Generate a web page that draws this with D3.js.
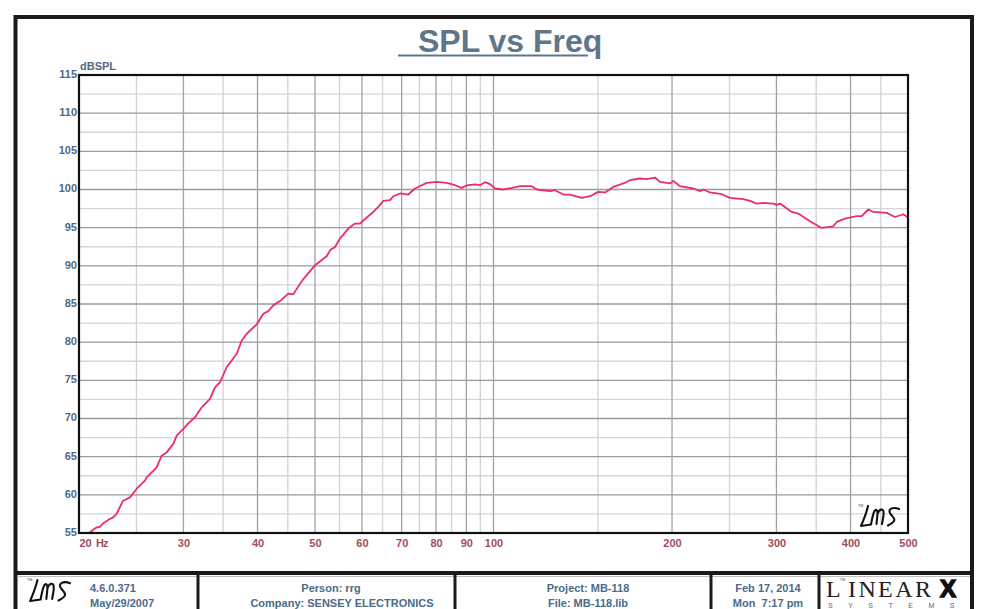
<!DOCTYPE html>
<html>
<head>
<meta charset="utf-8">
<script src="https://cdn.jsdelivr.net/npm/d3@7"></script>
<style>
  html, body { margin: 0; padding: 0; background: #ffffff; }
  svg { display: block; font-family: "Liberation Sans", Arial, sans-serif; }
  text { white-space: pre; }
</style>
</head>
<body>
<svg id="chart" width="984" height="609"></svg>
<script>
// ---------------- DATA ----------------
const freqHz = [20, 20.7, 21.4, 21.7, 21.95, 22.56, 22.82, 23.15, 23.73, 24.38, 25.02, 25.84,
  26.01, 27.04, 27.57, 28.11, 28.84, 29.23, 29.99, 30.57, 31.38, 32.21, 33.26, 33.91, 34.58,
  35.49, 36.9, 37.62, 38.36, 39.87, 40.91, 41.71, 42.53, 43.65, 45.08, 45.96, 47.17, 48.1,
  50.0, 52.33, 53.0, 54.04, 55.1, 56.91, 58.41, 59.55, 61.12, 62.71, 63.94, 65.19, 66.91,
  67.77, 69.56, 71.83, 73.73, 75.67, 77.16, 80.21, 83.39, 86.12, 88.39, 90.12, 93.07, 94.9,
  96.76, 98.66, 100.6, 103.9, 108.0, 110.9, 116.0, 118.3, 124.5, 127.0, 131.1, 134.6, 140.9,
  145.5, 150.2, 154.2, 159.2, 165.6, 169.9, 176.6, 181.3, 187.2, 190.9, 198.5, 201.0, 206.3,
  217.3, 223.0, 225.9, 231.8, 242.6, 250.5, 263.8, 270.8, 277.9, 285.1, 296.4, 300.3, 304.2,
  318.3, 326.6, 341.8, 357.6, 374.1, 379.1, 391.5, 409.7, 417.7, 428.6, 437.0, 460.3, 475.4,
  491.0, 500];
const splDb = [54.9, 54.9, 55.72, 55.81, 56.25, 56.86, 57.03, 57.52, 59.23, 59.66, 60.8, 61.85,
  62.28, 63.6, 65.13, 65.56, 66.67, 67.76, 68.64, 69.37, 70.16, 71.47, 72.57, 74.09, 74.75,
  76.72, 78.48, 80.22, 81.1, 82.32, 83.73, 84.07, 84.82, 85.38, 86.35, 86.26, 87.66, 88.53,
  90.07, 91.25, 92.03, 92.47, 93.57, 94.88, 95.54, 95.54, 96.33, 97.06, 97.72, 98.5, 98.6,
  99.12, 99.48, 99.34, 100.13, 100.56, 100.87, 101.0, 100.87, 100.56, 100.21, 100.53, 100.66, 100.56,
  100.96, 100.7, 100.13, 100.0, 100.26, 100.43, 100.43, 100.0, 99.78, 99.91, 99.34, 99.34, 98.9,
  99.12, 99.69, 99.61, 100.34, 100.79, 101.22, 101.44, 101.35, 101.57, 101.0, 100.79, 101.13, 100.43,
  100.13, 99.78, 100.0, 99.61, 99.38, 98.9, 98.73, 98.5, 98.16, 98.24, 98.16, 97.98, 98.16,
  97.06, 96.85, 95.84, 94.96, 95.18, 95.75, 96.19, 96.5, 96.5, 97.38, 97.06, 96.93, 96.4,
  96.76, 96.33];

const yTickValues = [55, 60, 65, 70, 75, 80, 85, 90, 95, 100, 105, 110, 115];
const yMinorValues = [57.5, 62.5, 67.5, 72.5, 77.5, 82.5, 87.5, 92.5, 97.5, 102.5, 107.5, 112.5];
const xMajorValues = [20, 30, 40, 50, 60, 70, 80, 90, 100, 200, 300, 400, 500];
const xMinorValues = [25, 35, 45, 55, 65, 75, 85, 95, 150, 250, 350, 450];
const xTickLabels = ["20", "30", "40", "50", "60", "70", "80", "90", "100", "200", "300", "400", "500"];

const titleText = "SPL vs Freq";
const yAxisTitle = "dBSPL";
const xUnit = "Hz";
const footerVersion = ["4.6.0.371", "May/29/2007"];
const footerPerson = ["Person: rrg", "Company: SENSEY ELECTRONICS"];
const footerProject = ["Project: MB-118", "File: MB-118.lib"];
const footerDate = ["Feb 17, 2014", "Mon  7:17 pm"];

// ---------------- LAYOUT ----------------
const svg = d3.select("#chart");
const plot = { left: 79, right: 908, top: 75, bottom: 533 };
const x = d3.scaleLog().domain([20, 500]).range([plot.left, plot.right]);
const y = d3.scaleLinear().domain([55, 115]).range([plot.bottom, plot.top]);

const blueGray = "#4c6a89";
const redLabel = "#a24b5a";
const sans = "'Liberation Sans', Arial, sans-serif";
const serif = "'Liberation Serif', 'Times New Roman', serif";

// outer frame
svg.append("rect").attr("x", 0).attr("y", 0).attr("width", 984).attr("height", 609).attr("fill", "#fff");
svg.append("path")
  .attr("d", "M15.5,609 L15.5,17 L972,17 L972,609")
  .attr("fill", "none").attr("stroke", "#1a1a1a").attr("stroke-width", 4);
svg.append("line").attr("x1", 14).attr("x2", 974).attr("y1", 573).attr("y2", 573)
  .attr("stroke", "#1a1a1a").attr("stroke-width", 4);
svg.append("line").attr("x1", 17).attr("x2", 970).attr("y1", 576.5).attr("y2", 576.5)
  .attr("stroke", "#bdbdbd").attr("stroke-width", 1);
[198, 455, 711, 819].forEach(xx => {
  svg.append("line").attr("x1", xx).attr("x2", xx).attr("y1", 575).attr("y2", 609)
    .attr("stroke", "#1a1a1a").attr("stroke-width", 3);
});

// title
svg.append("text").attr("x", 418).attr("y", 52).style("font-family", sans)
  .attr("font-size", 32).attr("font-weight", "bold").attr("fill", "#5f768a")
  .text(titleText);
svg.append("line").attr("x1", 398).attr("x2", 588).attr("y1", 55.5).attr("y2", 55.5)
  .attr("stroke", "#5f768a").attr("stroke-width", 2);

// grid
const g = svg.append("g");
g.selectAll("line.ymin").data(yMinorValues).join("line").attr("class", "ymin")
  .attr("x1", plot.left).attr("x2", plot.right)
  .attr("y1", d => y(d)).attr("y2", d => y(d))
  .attr("stroke", "#d6d6d6").attr("stroke-width", 1.3);
g.selectAll("line.xmin").data(xMinorValues).join("line").attr("class", "xmin")
  .attr("x1", d => x(d)).attr("x2", d => x(d))
  .attr("y1", plot.top).attr("y2", plot.bottom)
  .attr("stroke", "#d2d2d2").attr("stroke-width", 1.3);
g.selectAll("line.ymaj").data(yTickValues).join("line").attr("class", "ymaj")
  .attr("x1", plot.left).attr("x2", plot.right)
  .attr("y1", d => y(d)).attr("y2", d => y(d))
  .attr("stroke", "#9a9a9a").attr("stroke-width", 1.3);
g.selectAll("line.xmaj").data(xMajorValues).join("line").attr("class", "xmaj")
  .attr("x1", d => x(d)).attr("x2", d => x(d))
  .attr("y1", plot.top).attr("y2", plot.bottom)
  .attr("stroke", "#a2a2a2").attr("stroke-width", 1.3);

// curve
svg.append("clipPath").attr("id", "clip").append("rect")
  .attr("x", plot.left).attr("y", plot.top - 1)
  .attr("width", plot.right - plot.left).attr("height", plot.bottom - plot.top + 1);
const pts = freqHz.map((f, i) => [f, splDb[i]]);
svg.append("path").datum(pts)
  .attr("clip-path", "url(#clip)")
  .attr("d", d3.line().x(d => x(d[0])).y(d => y(d[1])))
  .attr("fill", "none").attr("stroke", "#ee2c66").attr("stroke-width", 1.8)
  .attr("stroke-linejoin", "round");

// plot frame
svg.append("rect").attr("x", plot.left).attr("y", plot.top)
  .attr("width", plot.right - plot.left).attr("height", plot.bottom - plot.top)
  .attr("fill", "none").attr("stroke", "#111").attr("stroke-width", 2.2);

// y axis labels
const yAxis = d3.axisLeft(y).tickValues(yTickValues).tickSize(0).tickPadding(2).tickFormat(d3.format("d"));
const yg = svg.append("g").attr("transform", `translate(${plot.left},0)`).call(yAxis);
yg.select(".domain").remove();
yg.selectAll("text").attr("font-size", 11).attr("font-weight", "bold").attr("fill", blueGray)
  .style("font-family", sans).attr("dy", "0.22em");
svg.append("text").attr("x", 80).attr("y", 70).attr("font-size", 11).attr("font-weight", "bold")
  .style("font-family", sans).attr("fill", blueGray).text(yAxisTitle);

// x axis labels
const xAxis = d3.axisBottom(x).tickValues(xMajorValues).tickSize(0).tickPadding(6)
  .tickFormat((d, i) => xTickLabels[i]);
const xg = svg.append("g").attr("transform", `translate(0,${plot.bottom})`).call(xAxis);
xg.select(".domain").remove();
xg.selectAll("text").attr("font-size", 11).attr("font-weight", "bold").attr("fill", redLabel)
  .style("font-family", sans)
  .attr("text-anchor", (d, i) => i === 0 ? "start" : "middle");
svg.append("text").attr("x", 96).attr("y", 547).attr("font-size", 11).attr("font-weight", "bold")
  .style("font-family", sans).attr("fill", redLabel).attr("letter-spacing", -1).text(xUnit);

// LMS logo
function lmsLogo(tx, ty, s) {
  const lg = svg.append("g").attr("transform", `translate(${tx},${ty}) scale(${s})`);
  lg.append("path")
    .attr("d", "M9,1 C7.5,8 5,14 2,21 L12,19.5 M12,19.5 C13,14 14,9 15.5,6 C17,3.5 18.8,5.5 18.5,9 L17.5,19 M18.5,9 C20,4 24,3 24.5,7 C25,11 23.5,15 23,19 M40,4 C34,1.5 28,4 31.5,9 C34.5,13 39.5,15 29,20.5")
    .attr("fill", "none").attr("stroke", "#111").attr("stroke-width", 2.1 / s)
    .attr("stroke-linecap", "round").attr("stroke-linejoin", "round");
  lg.append("text").attr("x", -1).attr("y", 2).attr("font-size", 3.5).attr("fill", "#444")
    .style("font-family", sans).text("TM");
}
lmsLogo(28, 579, 1.05);
lmsLogo(859, 505, 1.0);

// footer text
function footerLine(t, xx, yy, anchor) {
  svg.append("text").attr("x", xx).attr("y", yy)
    .attr("font-size", 11).attr("font-weight", "bold").attr("fill", blueGray)
    .style("font-family", sans).attr("text-anchor", anchor).text(t);
}
footerLine(footerVersion[0], 90, 592, "start");
footerLine(footerVersion[1], 90, 607, "start");
footerLine(footerPerson[0], 331, 592, "middle");
footerLine(footerPerson[1], 342, 607, "middle");
footerLine(footerProject[0], 588, 592, "middle");
footerLine(footerProject[1], 588, 607, "middle");
footerLine(footerDate[0], 768, 592, "middle");
footerLine(footerDate[1], 768, 607, "middle");

// LINEAR X logo
svg.append("text").attr("x", 826).attr("y", 597).style("font-family", serif)
  .attr("font-size", 24).attr("fill", "#222").text("L");
svg.append("text").attr("x", 840).attr("y", 581).style("font-family", sans)
  .attr("font-size", 3.5).attr("fill", "#444").text("TM");
svg.append("text").attr("x", 848).attr("y", 597).style("font-family", serif)
  .attr("font-size", 24).attr("letter-spacing", 2.4).attr("fill", "#222").text("INEAR");
svg.append("text").attr("x", 940).attr("y", 597).style("font-family", sans)
  .attr("font-size", 24).attr("font-weight", "bold").attr("fill", "#111")
  .attr("stroke", "#111").attr("stroke-width", 1.5).text("X");
svg.append("text").attr("x", 828).attr("y", 607.5).style("font-family", sans)
  .attr("font-size", 7).attr("fill", "#4c6a89").attr("letter-spacing", 15.5).text("SYSTEMS");
</script>
</body>
</html>
